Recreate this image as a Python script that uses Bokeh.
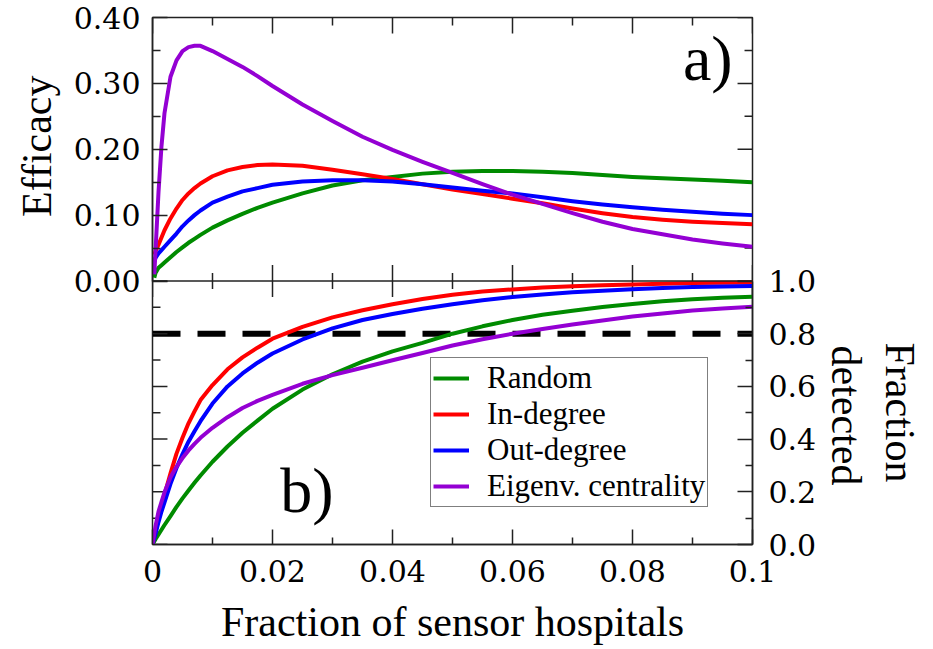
from bokeh.plotting import figure
from bokeh.models import (Range1d, FixedTicker, LinearAxis, Span, Label, Legend,
                          LegendItem, PrintfTickFormatter, Title)
from bokeh.embed import file_html
from bokeh.resources import INLINE

# ---------------- data ----------------
# panel a) efficacy
eff_x = [0.0003, 0.0005, 0.001, 0.0015, 0.002, 0.003, 0.004, 0.005, 0.006, 0.007, 0.008,
         0.01, 0.0125, 0.015, 0.0175, 0.02, 0.025, 0.03, 0.035, 0.04, 0.045, 0.05,
         0.055, 0.06, 0.065, 0.07, 0.075, 0.08, 0.085, 0.09, 0.095, 0.1]
eff_random = [0.005, 0.012, 0.02, 0.024, 0.028, 0.036, 0.044, 0.051, 0.058, 0.064, 0.07,
              0.081, 0.092, 0.102, 0.111, 0.119, 0.133, 0.145, 0.153, 0.158, 0.163, 0.166,
              0.167, 0.167, 0.166, 0.164, 0.161, 0.158, 0.156, 0.154, 0.152, 0.150]
eff_indeg = [0.04, 0.045, 0.055, 0.066, 0.077, 0.095, 0.11, 0.123, 0.133, 0.141, 0.148,
             0.159, 0.168, 0.173, 0.176, 0.177, 0.175, 0.169, 0.162, 0.155, 0.147, 0.139,
             0.132, 0.125, 0.118, 0.11, 0.103, 0.097, 0.093, 0.09, 0.088, 0.086]
eff_outdeg = [0.03, 0.035, 0.042, 0.047, 0.052, 0.062, 0.072, 0.083, 0.092, 0.1, 0.107,
              0.119, 0.128, 0.136, 0.141, 0.146, 0.151, 0.153, 0.153, 0.151, 0.147, 0.142,
              0.137, 0.133, 0.127, 0.121, 0.116, 0.112, 0.108, 0.105, 0.102, 0.100]
eff_eigen = [0.01, 0.045, 0.135, 0.205, 0.255, 0.31, 0.335, 0.349, 0.355, 0.357, 0.357,
             0.349, 0.337, 0.325, 0.311, 0.296, 0.268, 0.243, 0.219, 0.199, 0.181, 0.164,
             0.147, 0.131, 0.117, 0.103, 0.09, 0.079, 0.071, 0.063, 0.057, 0.052]

# panel b) fraction detected
det_x = [0.0, 0.0005, 0.001, 0.0015, 0.002, 0.003, 0.004, 0.005, 0.006, 0.007, 0.008,
         0.01, 0.0125, 0.015, 0.0175, 0.02, 0.025, 0.03, 0.035, 0.04, 0.045, 0.05,
         0.055, 0.06, 0.065, 0.07, 0.075, 0.08, 0.085, 0.09, 0.095, 0.1]
det_random = [0.0, 0.02, 0.038, 0.056, 0.074, 0.108, 0.143, 0.175, 0.205, 0.234, 0.262,
              0.314, 0.372, 0.424, 0.47, 0.515, 0.588, 0.646, 0.694, 0.733, 0.765, 0.8,
              0.828, 0.852, 0.872, 0.887, 0.901, 0.913, 0.923, 0.931, 0.936, 0.94]
det_indeg = [0.0, 0.05, 0.105, 0.15, 0.19, 0.27, 0.345, 0.405, 0.46, 0.505, 0.548,
             0.605, 0.665, 0.71, 0.747, 0.781, 0.826, 0.862, 0.889, 0.912, 0.932, 0.948,
             0.96, 0.968, 0.975, 0.98, 0.984, 0.987, 0.99, 0.992, 0.993, 0.994]
det_outdeg = [0.0, 0.04, 0.085, 0.125, 0.16, 0.23, 0.29, 0.343, 0.39, 0.43, 0.468,
              0.535, 0.6, 0.649, 0.69, 0.725, 0.778, 0.82, 0.852, 0.875, 0.895, 0.912,
              0.927, 0.939, 0.949, 0.957, 0.963, 0.969, 0.973, 0.977, 0.979, 0.981]
det_eigen = [0.0, 0.07, 0.125, 0.162, 0.198, 0.255, 0.295, 0.328, 0.357, 0.382, 0.405,
             0.443, 0.483, 0.518, 0.545, 0.568, 0.61, 0.643, 0.671, 0.699, 0.727, 0.755,
             0.779, 0.8, 0.818, 0.835, 0.85, 0.865, 0.877, 0.888, 0.896, 0.902]

series_names = ["Random", "In-degree", "Out-degree", "Eigenv. centrality"]
series_colors = ["#008b00", "#ff0000", "#0000ff", "#9400d3"]

threshold = 0.8

x_major = [0.0, 0.02, 0.04, 0.06, 0.08, 0.1]
x_minor = [0.01, 0.03, 0.05, 0.07, 0.09]
x_labels = {0.0: "0", 0.02: "0.02", 0.04: "0.04", 0.06: "0.06", 0.08: "0.08", 0.1: "0.1"}
eff_major = [0.0, 0.1, 0.2, 0.3, 0.4]
eff_minor = [0.05, 0.15, 0.25, 0.35]
det_major = [0.0, 0.2, 0.4, 0.6, 0.8, 1.0]
det_minor = [0.1, 0.3, 0.5, 0.7, 0.9]

TICKFONT = "DejaVu Serif"
TEXTFONT = "Liberation Serif"
AXCOL = "#222222"

# ---------------- figure ----------------
W, H = 931, 647
BL, BR, BT, BB = 150, 179, 17, 103
FW, FH = W - BL - BR, H - BT - BB

p = figure(width=W, height=H,
           x_range=Range1d(0, 0.1), y_range=Range1d(0, 2.0),   # bottom panel uses 0..1
           x_axis_location=None, y_axis_location=None,
           output_backend="svg", toolbar_location=None,
           min_border_left=BL, min_border_right=BR, min_border_top=BT, min_border_bottom=BB)
p.extra_y_ranges = {"eff": Range1d(-0.4, 0.4)}                   # top panel uses 0..0.4
p.xgrid.grid_line_color = None
p.ygrid.grid_line_color = None
p.outline_line_color = AXCOL
p.outline_line_width = 1.5
p.background_fill_color = "white"
p.border_fill_color = "white"

px_x = 0.1 / FW      # one pixel in x units
px_y = 2.0 / FH      # one pixel in detected-range units


def style_axis(ax, major_in, minor_in):
    ax.major_tick_in = major_in
    ax.major_tick_out = 0
    ax.minor_tick_in = minor_in
    ax.minor_tick_out = 0
    ax.axis_line_color = AXCOL
    ax.axis_line_width = 1.5
    ax.major_tick_line_color = AXCOL
    ax.major_tick_line_width = 1.5
    ax.minor_tick_line_color = AXCOL
    ax.minor_tick_line_width = 1.5
    ax.major_label_text_font = TICKFONT
    ax.major_label_text_font_size = "30px"
    ax.major_label_text_color = "black"
    ax.axis_label_text_font = TEXTFONT
    ax.axis_label_text_font_style = "normal"
    ax.axis_label_text_font_size = "42px"
    ax.axis_label_text_color = "black"
    return ax


def side_title(text, align, offset, standoff):
    return Title(text=text, align=align, offset=offset, vertical_align="bottom",
                 standoff=standoff, text_font=TEXTFONT, text_font_size="42px",
                 text_font_style="normal", text_color="black")


# left axis: efficacy (top panel)
lax = style_axis(LinearAxis(y_range_name="eff", bounds=(0, 0.4),
                            ticker=FixedTicker(ticks=eff_major, minor_ticks=eff_minor)), 15, 8)
lax.formatter = PrintfTickFormatter(format="%.2f")
lax.major_label_standoff = 12
p.add_layout(lax, "left")
p.add_layout(side_title("Efficacy", "right", 58, 22), "left")

# right axis: fraction detected (bottom panel)
rax = style_axis(LinearAxis(bounds=(0, 1.0),
                            ticker=FixedTicker(ticks=det_major, minor_ticks=det_minor)), 15, 7)
rax.formatter = PrintfTickFormatter(format="%.1f")
rax.major_label_standoff = 16
p.add_layout(rax, "right")
p.add_layout(side_title("detected", "left", 328, 6), "right")
p.add_layout(side_title("Fraction", "left", 325, 6), "right")

# bottom axis
bax = style_axis(LinearAxis(ticker=FixedTicker(ticks=x_major, minor_ticks=x_minor)), 15, 7)
bax.major_label_overrides = x_labels
bax.major_label_standoff = 15
bax.axis_label = "Fraction of sensor hospitals"
bax.axis_label_standoff = 14
p.add_layout(bax, "below")

# inner tick marks on the edges that carry no labels (short two-point lines)
tick_kw = dict(line_color=AXCOL, line_width=1.5, line_cap="butt")


def vticks(ticks, y_lo, y_hi):
    p.multi_line(xs=[[t, t] for t in ticks], ys=[[y_lo, y_hi] for _ in ticks], **tick_kw)


def hticks(ticks, x_lo, x_hi, range_name="default"):
    p.multi_line(xs=[[x_lo, x_hi] for _ in ticks], ys=[[t, t] for t in ticks],
                 y_range_name=range_name, **tick_kw)


vticks(x_major, 2.0 - 16 * px_y, 2.0)                 # top edge
vticks(x_minor, 2.0 - 8 * px_y, 2.0)
vticks(x_major, 1.0 - 16 * px_y, 1.0 + 16 * px_y)     # panel boundary
vticks(x_minor, 1.0 - 8 * px_y, 1.0 + 8 * px_y)
hticks(det_major, 0.0, 15 * px_x)                     # bottom panel, left edge
hticks(det_minor, 0.0, 8 * px_x)
hticks(eff_major, 0.1 - 15 * px_x, 0.1, "eff")        # top panel, right edge
hticks(eff_minor, 0.1 - 8 * px_x, 0.1, "eff")

p.add_layout(Span(location=1.0, dimension="width", line_color=AXCOL, line_width=1.5))
p.add_layout(Span(location=threshold, dimension="width", line_color="black",
                  line_width=6, line_dash="28 17", level="underlay"))

# top panel lines
for ys, c in zip([eff_random, eff_indeg, eff_outdeg, eff_eigen], series_colors):
    p.line(eff_x, ys, line_color=c, line_width=4, line_join="round", y_range_name="eff")

# bottom panel lines
renderers = []
for ys, c in zip([det_random, det_indeg, det_outdeg, det_eigen], series_colors):
    renderers.append(p.line(det_x, ys, line_color=c, line_width=4, line_join="round"))

legend = Legend(items=[LegendItem(label=n, renderers=[r]) for n, r in zip(series_names, renderers)],
                location=(278, 37))
legend.label_text_font = TEXTFONT
legend.label_text_font_size = "31px"
legend.label_text_color = "black"
legend.border_line_color = "black"
legend.border_line_width = 1
legend.background_fill_alpha = 1.0
legend.padding = 2
legend.spacing = -3
legend.label_height = 30
legend.glyph_height = 30
legend.glyph_width = 36
legend.label_standoff = 18
legend.margin = 0
p.add_layout(legend)

# panel tags
p.add_layout(Label(x=0.0884, y=0.338, y_range_name="eff", text="a)", text_font=TEXTFONT,
                   text_font_size="64px", text_color="black",
                   text_baseline="alphabetic", text_align="left"))
p.add_layout(Label(x=0.0213, y=0.205, text="b)", text_font=TEXTFONT,
                   text_font_size="64px", text_color="black",
                   text_baseline="alphabetic", text_align="left"))

open("out.html", "w").write(file_html(p, INLINE))
